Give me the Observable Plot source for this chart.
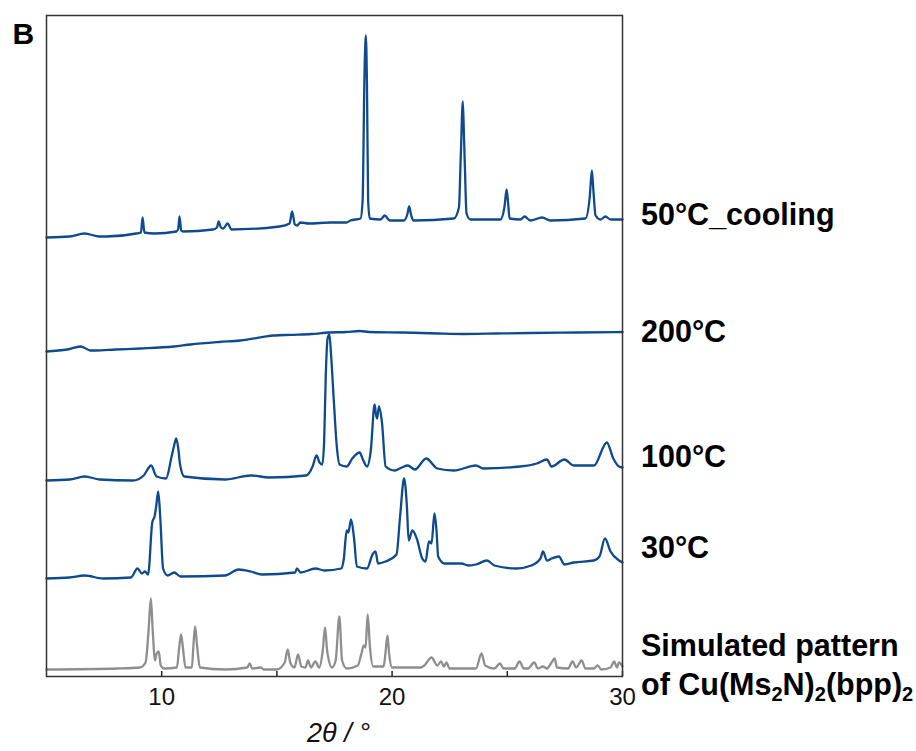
<!DOCTYPE html>
<html><head><meta charset="utf-8">
<script src="https://cdn.jsdelivr.net/npm/d3@7"></script>
<script src="https://cdn.jsdelivr.net/npm/@observablehq/plot@0.6"></script>
<style>body{margin:0;background:#fff;} #chart{width:916px;height:751px;}</style>
</head><body><div id="chart"></div>
<script>
// ---- data (2θ in degrees, intensity in offset arbitrary units) ----
const majorTicks = [10, 20, 30];
const minorTicks = [15, 25];
const seriesLabels = ["50°C_cooling", "200°C", "100°C", "30°C", "Simulated pattern"];

const cool50_x = [5.0,6.0,6.65,7.3,7.6,8.9,9.1,9.17,9.25,9.68,10.64,10.72,10.77,10.85,10.93,12.23,12.4,12.47,12.57,12.67,12.86,13.03,15.11,15.55,15.66,15.78,15.88,16.02,16.4,17.33,18.02,18.19,18.63,18.72,18.8,18.86,18.91,18.96,19.03,19.5,19.68,19.9,20.5,20.66,20.74,20.82,20.92,22.68,22.9,22.98,23.07,23.12,23.16,23.23,23.4,24.7,24.88,24.97,25.03,25.1,25.57,25.75,26.0,26.51,26.87,28.39,28.58,28.67,28.74,28.83,29.05,29.26,29.48,30.0];
const cool50_y = [439,440,443,440,440,443,444,459,444,443,445,448,460,446,445,447,449,455,449,448,453,447,450,453,465,452,451,454,453,454,454,456,458,476,600,641,590,476,458,457,461,456,456,462,470,462,456,458,469,520,575,540,509,463,457,457,470,487,475,458,457,460,456,459,456,458,480,506,485,461,457,460,457,457];

const t200_x = [5.0,5.9,6.48,6.62,6.9,7.13,8.0,9.08,10.53,11.25,12.5,13.42,14.87,15.59,16.5,17.25,18.0,18.6,19.0,20.5,22.0,23.1,24.5,26.0,28.0,30.0];
const t200_y = [325,327,330,329,326,326,327,328,330,332,334.5,336,341,341.7,342.5,344,344.5,345.5,344.5,344,343,342.5,343,343.5,344,344.5];

const t100_x = [5.0,6.0,6.66,7.3,8.75,9.22,9.54,9.78,10.19,10.43,10.55,10.63,10.72,10.79,10.98,12.75,13.87,14.67,16.27,16.55,16.72,16.85,16.97,17.05,17.12,17.2,17.28,17.35,17.47,17.6,17.72,18.03,18.27,18.59,18.75,18.91,19.08,19.24,19.3,19.35,19.43,19.56,19.72,20.11,20.42,20.68,20.99,21.48,21.96,22.68,23.64,23.96,25.56,26.28,26.72,26.92,27.48,27.88,28.76,29.32,29.6,29.85,30.0];
const t100_y = [196,197,200,197,196,201,211,200,198,220,232,238,228,213,200,197,201,199,201,210,221,214,212,235,300,338,342,322,276,230,212,210,218,224,216,210,227,272,262,258,270,254,210,206,209,211,207,218,208,206,211,208,210,213,217,210,217,211,211,234,218,210,209];

const t30_x = [5.0,6.0,6.66,7.46,8.66,8.95,9.14,9.27,9.41,9.59,9.7,9.76,9.85,9.94,10.06,10.26,10.54,10.82,12.75,13.34,13.87,14.35,15.79,15.87,16.03,16.67,17.07,17.79,17.9,18.03,18.1,18.22,18.35,18.47,18.91,19.15,19.28,19.39,19.71,20.19,20.35,20.52,20.64,20.72,20.88,21.07,21.31,21.45,21.6,21.71,21.84,21.93,22.0,22.28,23.0,23.32,23.64,24.12,24.44,25.4,26.04,26.44,26.55,26.72,26.92,27.24,27.48,27.88,28.76,29.0,29.24,29.48,29.85,30.0];
const t30_y = [98,99,101,98,99,108,103,105,102,154,161,170,185,158,108,101,104,100,101,107,105,102,104,108,104,108,106,108,117,146,144,157,138,110,108,122,125,113,115,122,161,198,171,136,146,138,118,115,135,133,163,145,120,113,113,111,112,116,111,108,111,118,125,116,118,120,112,114,116,120,138,125,116,114];

const sim_x = [5.0,8.1,9.06,9.3,9.43,9.53,9.61,9.71,9.78,9.87,9.96,10.1,10.66,10.76,10.84,10.92,11.03,11.31,11.38,11.45,11.53,11.66,12.76,13.71,13.82,13.93,14.3,14.43,14.99,15.34,15.47,15.58,15.76,15.92,16.06,16.24,16.35,16.48,16.67,16.83,16.99,17.09,17.18,17.39,17.55,17.71,17.83,18.03,18.51,18.67,18.77,18.85,18.94,19.04,19.18,19.63,19.71,19.8,19.87,20.0,21.23,21.4,21.71,21.96,22.12,22.25,22.36,22.49,23.64,23.88,24.04,24.44,24.68,24.84,25.32,25.53,25.72,25.9,26.17,26.33,26.55,26.72,26.92,27.05,27.16,27.64,27.83,27.99,28.23,28.39,28.76,28.92,29.08,29.48,29.64,29.76,29.85,30.0];
const sim_y = [7,8,9,14,46,78,46,16,23,25,11,8,9,29,42,29,9,9,32,50,32,9,7,9,13,8,9,7,7,14,27,14,9,22,10,9,16,9,15,9,26,49,26,9,16,60,16,8,11,23,31,29,62,29,10,10,23,41,23,9,9,11,19,11,15,10,14,8,8,23,11,8,13,8,8,15,8,8,14,8,10,8,14,18,9,8,15,9,16,8,8,11,7,9,15,9,14,10];

// ---- build tables ----
const rows = (name, xs, ys) => xs.map((x, i) => ({series: name, twoTheta: x, intensity: ys[i]}));
const measured = [
  ...rows(seriesLabels[0], cool50_x, cool50_y),
  ...rows(seriesLabels[1], t200_x, t200_y),
  ...rows(seriesLabels[2], t100_x, t100_y),
  ...rows(seriesLabels[3], t30_x, t30_y)
];
const simulated = rows(seriesLabels[4], sim_x, sim_y);

const BLUE = "#0f4a8e";
const GRAY = "#8e8e8e";
const FONT = "'Liberation Sans', Arial, Helvetica, sans-serif";

const plot = Plot.plot({
  width: 916,
  height: 751,
  marginLeft: 46,
  marginRight: 294,
  marginTop: 15,
  marginBottom: 75,
  x: {domain: [5, 30], label: null, axis: null},
  y: {domain: [0, 661], axis: null},
  style: {fontFamily: FONT, background: "white", color: "#111"},
  marks: [
    Plot.line(simulated, {x: "twoTheta", y: "intensity", stroke: GRAY, strokeWidth: 2.3, curve: "monotone-x"}),
    Plot.line(measured, {x: "twoTheta", y: "intensity", z: "series", stroke: BLUE, strokeWidth: 2.3, curve: "monotone-x"}),
    Plot.ruleX([...majorTicks, ...minorTicks], {y1: 0, y2: 5, stroke: "#222", strokeWidth: 1.5}),
    Plot.text(majorTicks, {x: d => d, frameAnchor: "bottom", lineAnchor: "middle", dy: 21, fontSize: 24, fill: "#111"}),
    Plot.frame({stroke: "#333", strokeWidth: 1.5}),
    Plot.text(["2θ / °"], {frameAnchor: "bottom", lineAnchor: "middle", dy: 57, dx: 4, fontSize: 27, fontStyle: "italic", fill: "#111"}),
    Plot.text(["B"], {frameAnchor: "top-left", lineAnchor: "top", dx: -34, dy: 7, fontSize: 30, fontWeight: "bold", textAnchor: "start", fill: "#000"})
  ]
});
document.getElementById("chart").append(plot);

// ---- trace labels (right side) ----
const svg = d3.select(plot);
const xs = plot.scale("x"), ys = plot.scale("y");
const labelX = xs.apply(30) + 19;
// baseline heights of each label line, in the chart's offset-intensity units
const labelBaselines = [451, 334.3, 209.3, 117.7, 20, -19];
const g = svg.append("g")
  .attr("font-family", FONT).attr("font-weight", "bold").attr("font-size", 30.5)
  .attr("fill", "#000").attr("text-anchor", "start");
seriesLabels.forEach((s, i) => {
  g.append("text").attr("x", labelX).attr("y", ys.apply(labelBaselines[i])).text(s);
});
const f = g.append("text").attr("x", labelX).attr("y", ys.apply(labelBaselines[5]));
const parts = [["of Cu(Ms", false], ["2", true], ["N)", false], ["2", true], ["(bpp)", false], ["2", true]];
parts.forEach(([t, sub]) => {
  const ts = f.append("tspan").text(t);
  if (sub) ts.attr("font-size", 20).attr("dy", 6);
  else ts.attr("dy", f.selectAll("tspan").size() > 1 ? -6 : 0);
});
</script>
</body></html>
